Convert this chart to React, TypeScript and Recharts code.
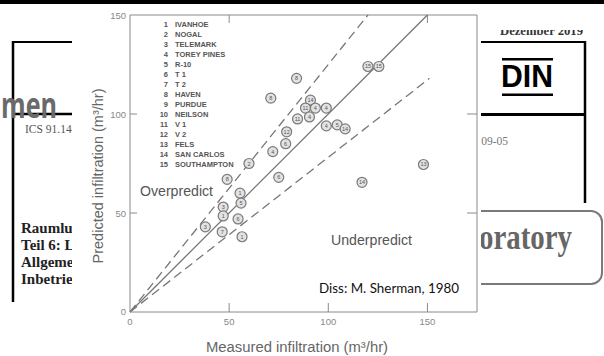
import React from 'react';
import { ScatterChart, Scatter, XAxis, YAxis, ReferenceLine, Legend, Label } from 'recharts';

// site list printed in the upper left of the plot
const siteNames = [
  'IVANHOE', 'NOGAL', 'TELEMARK', 'TOREY PINES', 'R-10', 'T 1', 'T 2', 'HAVEN',
  'PURDUE', 'NEILSON', 'V 1', 'V 2', 'FELS', 'SAN CARLOS', 'SOUTHAMPTON',
];

// measured vs predicted infiltration (m3/hr)
const measured = [120, 125.5, 84, 71, 91, 88.5, 93.5, 99, 84.5, 90.5, 99, 104.5, 108.5, 79, 78.5, 72, 60, 148, 75, 117, 49, 55.5, 56, 47, 47, 54.5, 38, 46.5, 56.5];
const predicted = [124, 124, 118, 108, 107, 103, 103, 103, 97.5, 98.5, 94, 94.5, 92.5, 91, 85, 81, 75, 74.5, 68, 65.5, 67, 60, 55, 53, 48.5, 47, 43, 40.5, 38];
const siteIds = [15, 15, 8, 8, 14, 11, 4, 4, 11, 4, 4, 5, 14, 12, 6, 4, 2, 13, 6, 14, 8, 1, 5, 3, 1, 6, 3, 7, 1];

const xTicks = [0, 50, 100, 150];
const yTicks = [0, 50, 100, 150];
const xDomain = [0, 175];
const yDomain = [0, 150];

// 1:1 line and the two +-25 % bounds
const perfectLine = [{ x: 0, y: 0 }, { x: 150, y: 150 }];
const overLine = [{ x: 0, y: 0 }, { x: 120, y: 150 }];
const underLine = [{ x: 0, y: 0 }, { x: 151, y: 118 }];

// small inner ticks on the top and right frame
const topTicks = [50, 150];
const rightTicks = [50, 100];

const data = measured.map((m, i) => ({ measured: m, predicted: predicted[i], site: siteIds[i] }));

const AXIS_GRAY = '#8a8a8a';
const SCAN_FONT = '"Liberation Sans", Arial, sans-serif';
const SERIF = '"Liberation Serif", "Times New Roman", serif';

const YTick = (props: any) => {
  const { x, y, payload } = props;
  const v = payload.value;
  return (
    <g>
      {v > 0 && v < 150 && <line x1={x} x2={x + 7} y1={y} y2={y} stroke={AXIS_GRAY} />}
      <text x={x - 4} y={v === 0 ? y - 1 : y} dy={3.5} textAnchor="end" fontSize={9.5} fill="#888" fontFamily={SCAN_FONT}>{v}</text>
    </g>
  );
};

const XTick = (props: any) => {
  const { x, y, payload } = props;
  const v = payload.value;
  return (
    <g>
      {v > 0 && <line x1={x} x2={x} y1={y} y2={y - 9} stroke={AXIS_GRAY} />}
      <text x={x} y={y + 13} textAnchor="middle" fontSize={9.5} fill="#888" fontFamily={SCAN_FONT}>{v}</text>
    </g>
  );
};

const SiteMarker = (props: any) => {
  const { cx, cy, payload } = props;
  return (
    <g>
      <circle cx={cx} cy={cy} r={5} fill="#e2e2e2" stroke="#7a7a7a" strokeWidth={1.2} />
      <text x={cx} y={cy} dy={2} textAnchor="middle" fontSize={5.5} fill="#555" fontFamily={SCAN_FONT}>{payload.site}</text>
    </g>
  );
};

const SiteList = () => (
  <div style={{ fontFamily: SCAN_FONT, fontSize: 7.5, fontWeight: 700, color: '#555', lineHeight: '10px' }}>
    {siteNames.map((n, i) => (
      <div key={n} style={{ display: 'flex', whiteSpace: 'nowrap' }}>
        <span style={{ width: 10, textAlign: 'right', marginRight: 7 }}>{i + 1}</span>
        <span>{n}</span>
      </div>
    ))}
  </div>
);

const YTitle = () => (
  <text transform="translate(103,176) rotate(-90)" textAnchor="middle" fontSize={14} fill="#666" fontFamily={SCAN_FONT} textLength={175} lengthAdjust="spacingAndGlyphs">
    Predicted infiltration (m³/hr)
  </text>
);

const XTitle = () => (
  <text x={297} y={352} textAnchor="middle" fontSize={14} fill="#666" fontFamily={SCAN_FONT} textLength={182} lengthAdjust="spacingAndGlyphs">
    Measured infiltration (m³/hr)
  </text>
);

// bits of the slide behind the scanned figure
const Backdrop = () => (
  <svg width={604} height={356} style={{ position: 'absolute', left: 0, top: 0 }}>
    <defs>
      <clipPath id="leftDoc"><rect x={0} y={0} width={72} height={356} /></clipPath>
      <clipPath id="rightDoc"><rect x={481} y={0} width={123} height={356} /></clipPath>
      <clipPath id="dezClip"><rect x={481} y={30} width={123} height={10} /></clipPath>
    </defs>
    <g clipPath="url(#leftDoc)">
      <line x1={13} x2={13} y1={41} y2={302} stroke="#000" strokeWidth={2.5} />
      <line x1={12} x2={90} y1={42} y2={42} stroke="#000" strokeWidth={2} />
      <line x1={12} x2={90} y1={114} y2={114} stroke="#000" strokeWidth={2.5} />
      <text x={1} y={118} fontSize={36} fontWeight={700} fill="#6a6a6a" fontFamily='"Open Sans", sans-serif' textLength={56} lengthAdjust="spacingAndGlyphs">men</text>
      <text x={25} y={133} fontSize={11.5} fill="#555" fontFamily={SERIF}>ICS 91.140.30</text>
      <g fontFamily={SERIF} fontWeight={700} fontSize={15} fill="#222">
        <text x={21} y={233}>Raumlufttechnik</text>
        <text x={21} y={250}>Teil 6: Lüftung</text>
        <text x={21} y={267}>Allgemeine</text>
        <text x={21} y={284}>Inbetriebnahme</text>
      </g>
    </g>
    <g clipPath="url(#dezClip)">
      <text x={500} y={35} fontSize={13} fontWeight={700} fill="#333" fontFamily={SERIF} textLength={83} lengthAdjust="spacingAndGlyphs">Dezember 2019</text>
    </g>
    <g clipPath="url(#rightDoc)">
      <line x1={470} x2={586} y1={42} y2={42} stroke="#000" strokeWidth={2} />
      <line x1={585} x2={585} y1={41} y2={203} stroke="#000" strokeWidth={2.5} />
      <line x1={470} x2={586} y1={114.5} y2={114.5} stroke="#000" strokeWidth={3} />
      <rect x={502} y={58} width={51} height={2.5} fill="#000" />
      <text x={501} y={87} fontSize={31} fontWeight={700} fill="#000" fontFamily={SCAN_FONT} textLength={52} lengthAdjust="spacingAndGlyphs">DIN</text>
      <rect x={502} y={93.5} width={51} height={2.5} fill="#000" />
      <text x={508} y={145} textAnchor="end" fontSize={11.5} fill="#777" fontFamily={SERIF}>2019-09-05</text>
      <rect x={430} y={211} width={172} height={73} rx={11} fill="none" stroke="#7a7a7a" strokeWidth={2} />
      <text x={479} y={249} fontSize={36} fontWeight={700} fill="#666" fontFamily={SERIF} textLength={93} lengthAdjust="spacingAndGlyphs">oratory</text>
    </g>
    <text x={140} y={196} fontSize={14} fill="#555" fontFamily={SCAN_FONT} textLength={73} lengthAdjust="spacingAndGlyphs">Overpredict</text>
    <text x={331} y={245} fontSize={14} fill="#555" fontFamily={SCAN_FONT} textLength={81} lengthAdjust="spacingAndGlyphs">Underpredict</text>
    <text x={319} y={293} fontSize={13} fill="#111" fontFamily='Lato, "Open Sans", sans-serif' textLength={140} lengthAdjust="spacingAndGlyphs">Diss: M. Sherman, 1980</text>
  </svg>
);

export default function App() {
  return (
    <div style={{ position: 'absolute', left: 0, top: 0, width: 604, height: 356, background: '#fff', overflow: 'hidden' }}>
      <Backdrop />
      <div style={{ position: 'absolute', left: 0, top: 0 }}>
        <ScatterChart width={604} height={356} margin={{ top: 15, right: 127, bottom: 14, left: 70 }}>
          <XAxis type="number" dataKey="measured" domain={xDomain} ticks={xTicks} allowDataOverflow
            height={30} tickSize={0} tickMargin={0} tickLine={false} tick={<XTick />}
            axisLine={{ stroke: AXIS_GRAY, strokeWidth: 1 }}>
            <Label content={<XTitle />} />
          </XAxis>
          <YAxis type="number" dataKey="predicted" domain={yDomain} ticks={yTicks} allowDataOverflow
            width={60} tickSize={0} tickMargin={0} tickLine={false} tick={<YTick />}
            axisLine={{ stroke: AXIS_GRAY, strokeWidth: 1 }}>
            <Label content={<YTitle />} />
          </YAxis>
          <ReferenceLine y={150} stroke={AXIS_GRAY} strokeWidth={1} />
          <ReferenceLine x={175} stroke={AXIS_GRAY} strokeWidth={1} />
          {topTicks.map(t => (
            <ReferenceLine key={'t' + t} segment={[{ x: t, y: 150 }, { x: t, y: 146 }]} stroke={AXIS_GRAY} />
          ))}
          {rightTicks.map(t => (
            <ReferenceLine key={'r' + t} segment={[{ x: 175, y: t }, { x: 170, y: t }]} stroke={AXIS_GRAY} />
          ))}
          <ReferenceLine segment={perfectLine} stroke="#777" strokeWidth={1.3} />
          <ReferenceLine segment={overLine} stroke="#777" strokeWidth={1.3} strokeDasharray="9 5" />
          <ReferenceLine segment={underLine} stroke="#777" strokeWidth={1.3} strokeDasharray="9 5" />
          <Legend layout="vertical" align="center" verticalAlign="middle" content={<SiteList />}
            wrapperStyle={{ left: 158, top: 20, width: 100 }} />
          <Scatter data={data} shape={<SiteMarker />} isAnimationActive={false} />
        </ScatterChart>
      </div>
      <div style={{ position: 'absolute', left: 0, top: 0, width: 604, height: 3.5, background: '#000' }} />
    </div>
  );
}
